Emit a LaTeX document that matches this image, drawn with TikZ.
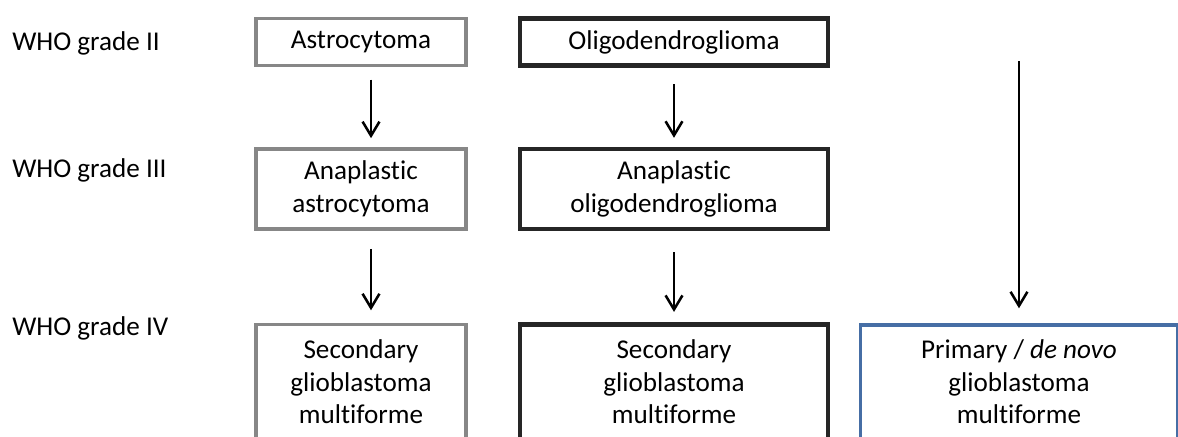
\documentclass[tikz,border=0pt]{standalone}
\usepackage{fontspec}
\setmainfont[Ligatures=NoCommon]{Carlito}
\usepackage{tikz}
\usetikzlibrary{arrows.meta,positioning}
\usepackage{xcolor}
\definecolor{gliogray}{RGB}{135,135,135}
\definecolor{gliodark}{RGB}{38,38,38}
\definecolor{glioblue}{RGB}{70,110,165}
\tikzstyle{gradelabel} = [anchor=base west, inner sep=0pt, font=\fontsize{19.3}{23.2}\selectfont]
\tikzstyle{tumour} = [rectangle, align=center, fill=white, inner sep=0pt, font=\fontsize{19.3}{23.2}\selectfont]
\tikzstyle{astrobox} = [tumour, draw=gliogray, line width=2.6pt, minimum width=5.25cm]
\tikzstyle{oligobox} = [tumour, draw=gliodark, line width=3.1pt, minimum width=7.7cm]
\tikzstyle{arrow} = [line width=1.8pt, -{Straight Barb[length=10pt,width=12pt,line width=1.8pt]}, color=black]

\begin{document}
\begin{tikzpicture}[x=0.025cm, y=-0.025cm]
\clip (0,0) rectangle (1178,436);
\fill[white] (0,0) rectangle (1178,436);

% Grade labels on the left
\node (g2) [gradelabel] at (12,50) {WHO grade II};
\node (g3) [gradelabel] at (12,177) {WHO grade III};
\node (g4) [gradelabel] at (12,335) {WHO grade IV};

% Astrocytic line
\node (astro) [astrobox, minimum height=1.175cm] at (361,42) {Astrocytoma};
\node (anaastro) [astrobox, minimum height=2cm] at (361,189) {Anaplastic\\astrocytoma};
\node (secastro) [astrobox, minimum height=2.875cm] at (361,382) {Secondary\\glioblastoma\\multiforme};

% Oligodendroglial line
\node (oligo) [oligobox, minimum height=1.175cm] at (674,42) {Oligodendroglioma};
\node (anaoligo) [oligobox, minimum height=2cm] at (674,189) {Anaplastic\\oligodendroglioma};
\node (secoligo) [oligobox, minimum height=2.875cm] at (674,382) {Secondary\\glioblastoma\\multiforme};

% Primary glioblastoma
\node (primary) [tumour, draw=glioblue, line width=2.4pt, minimum width=7.925cm, minimum height=2.85cm] at (1019,382) {Primary / \textit{de novo}\\glioblastoma\\multiforme};
\coordinate (denovo) at (1019,61);

% Progression arrows
\draw[arrow, shorten <=0.31cm, shorten >=0.225cm] ([xshift=0.25cm]astro.south) -- ([xshift=0.25cm]anaastro.north);
\draw[arrow, shorten <=0.45cm, shorten >=0.31cm] ([xshift=0.25cm]anaastro.south) -- ([xshift=0.25cm]secastro.north);
\draw[arrow, shorten <=0.41cm, shorten >=0.225cm] (oligo.south) -- (anaoligo.north);
\draw[arrow, shorten <=0.525cm, shorten >=0.26cm] (anaoligo.south) -- (secoligo.north);
\draw[arrow, shorten >=0.375cm] (denovo) -- (primary.north);
\end{tikzpicture}
\end{document}
